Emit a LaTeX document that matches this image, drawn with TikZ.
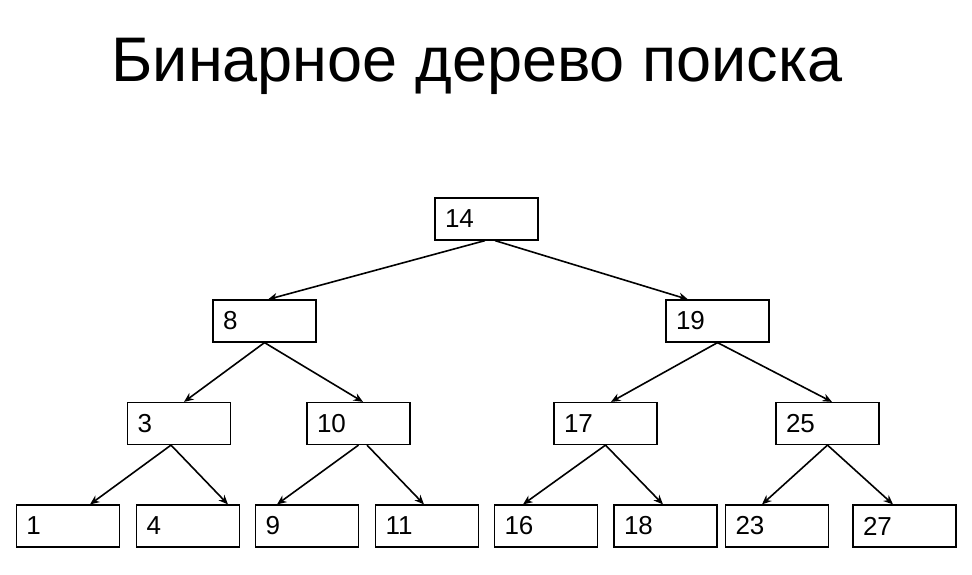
\documentclass[tikz,border=0pt]{standalone}
\usepackage{fontspec}
\setmainfont{Liberation Sans}
\usetikzlibrary{arrows.meta}

\begin{document}
\begin{tikzpicture}[x=1pt, y=-1pt, >={Stealth[length=9.5pt, width=8pt]},
    box/.style={draw, line width=1.2pt, minimum width=103pt, minimum height=42pt,
        text width=83pt, inner xsep=10pt, inner ysep=0pt, align=left,
        font=\fontsize{26}{26}\selectfont},
    link/.style={->, line width=1.6pt}]
    \useasboundingbox (0,0) rectangle (972,574);

    % --- Title ---
    \node[anchor=base, font=\fontsize{63}{63}\selectfont] (title) at (477,81) {Бинарное дерево поиска};

    % --- Levels (y of box centres) ---
    \def\yA{219}
    \def\yB{321}
    \def\yC{423.5}
    \def\yD{526}

    % --- Root and second level ---
    \node[box] (n14) at (486.5,\yA) {14};
    \node[box] (n8)  at (264.5,\yB) {8};
    \node[box] (n19) at (717.5,\yB) {19};

    % --- Third level ---
    \node[box] (n3)  at (179,\yC)   {3};
    \node[box] (n10) at (358.5,\yC) {10};
    \node[box] (n17) at (605.5,\yC) {17};
    \node[box] (n25) at (827.5,\yC) {25};

    % --- Leaves ---
    \node[box] (n1)  at (68,\yD)    {1};
    \node[box] (n4)  at (188,\yD)   {4};
    \node[box] (n9)  at (307,\yD)   {9};
    \node[box] (n11) at (427,\yD)   {11};
    \node[box] (n16) at (546,\yD)   {16};
    \node[box] (n18) at (665.5,\yD) {18};
    \node[box] (n23) at (777,\yD)   {23};
    \node[box] (n27) at (904.5,\yD) {27};

    % --- Links ---
    \draw[link] ([xshift=-1.5pt]n14.south) -- ([xshift=3.5pt]n8.north);
    \draw[link] ([xshift=8.5pt]n14.south) -- ([xshift=-29.5pt]n19.north);

    \draw[link] (n8.south) -- ([xshift=5pt]n3.north);
    \draw[link] (n8.south) -- ([xshift=4.5pt]n10.north);
    \draw[link] (n19.south) -- ([xshift=5.5pt]n17.north);
    \draw[link] (n19.south) -- ([xshift=4.5pt]n25.north);

    \draw[link] ([xshift=-8pt]n3.south) -- ([xshift=22pt]n1.north);
    \draw[link] ([xshift=-8pt]n3.south) -- ([xshift=40pt]n4.north);
    \draw[link] (n10.south) -- ([xshift=-30pt]n9.north);
    \draw[link] ([xshift=8.5pt]n10.south) -- ([xshift=-3pt]n11.north);
    \draw[link] (n17.south) -- ([xshift=-23pt]n16.north);
    \draw[link] (n17.south) -- ([xshift=-2.5pt]n18.north);
    \draw[link] (n25.south) -- ([xshift=-15pt]n23.north);
    \draw[link] (n25.south) -- ([xshift=-11.5pt]n27.north);
\end{tikzpicture}
\end{document}
